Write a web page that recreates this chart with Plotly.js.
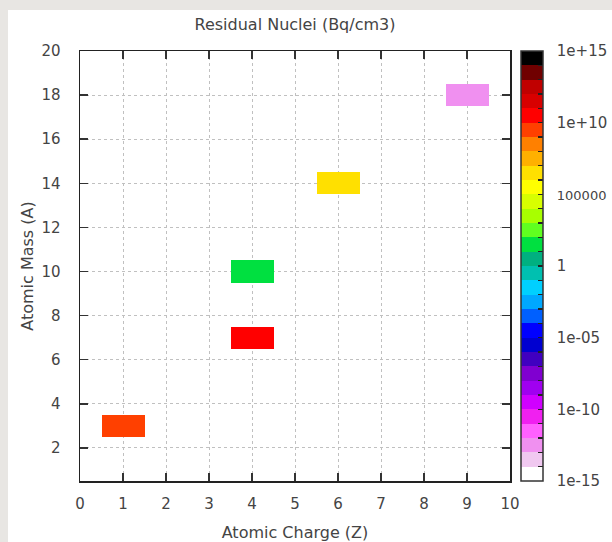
<!DOCTYPE html>
<html>
<head>
<meta charset="utf-8">
<script src="https://cdn.plot.ly/plotly-3.0.1.min.js"></script>
<style>html,body{margin:0;padding:0;background:#fff;}#chart{width:612px;height:542px;}</style>
</head>
<body>
<div id="chart"></div>
<script>
// Residual nuclei: atomic charge Z, atomic mass A, activity (Bq/cm3)
const chargeZ = [1, 4, 4, 6, 9];
const massA = [3, 7, 10, 14, 18];
const activity = [3e9, 3e10, 30, 3e6, 3e-13];

// grid axes (cell centres)
const gridZ = [0, 1, 2, 3, 4, 5, 6, 7, 8, 9, 10];
const gridA = [1, 2, 3, 4, 5, 6, 7, 8, 9, 10, 11, 12, 13, 14, 15, 16, 17, 18, 19, 20];

// colour bar labels (log10 of Bq/cm3)
const cbLabelVals = [-15, -10, -5, 0, 5, 10, 15];
const cbLabelText = ["1e-15", "1e-10", "1e-05", "1", "100000", "1e+10", "1e+15"];

// discrete palette, one colour per decade, from 1e-15 upwards
const palette = [
  "#ffffff", "#f0c8f0", "#f090f0", "#ff60ff", "#f020f0", "#d000ff",
  "#a000f0", "#8000d0", "#4000c0", "#0000d0", "#0000ff", "#0060ff",
  "#00a8ff", "#00d0ff", "#00c0b0", "#00b080", "#00e040", "#60ff20",
  "#a8ff00", "#d8ff00", "#ffff00", "#ffe000", "#ffb000", "#ff8000",
  "#ff4000", "#ff0000", "#d80000", "#c00000", "#700000", "#000000"
];

const zmin = -15, zmax = 15;
const colorscale = [];
palette.forEach((c, i) => {
  colorscale.push([i / palette.length, c]);
  colorscale.push([(i + 1) / palette.length, c]);
});

const zGrid = gridA.map(a => gridZ.map(z => {
  for (let k = 0; k < chargeZ.length; k++) {
    if (chargeZ[k] === z && massA[k] === a) return Math.log10(activity[k]);
  }
  return null;
}));

// every decade gets a dash on the colour bar, labels only on the listed ones
const pad = "\u00a0\u00a0";
const cbTickVals = [], cbTickText = [];
for (let v = zmin; v <= zmax; v++) {
  cbTickVals.push(v);
  const idx = cbLabelVals.indexOf(v);
  let t = "";
  if (idx >= 0) {
    t = cbLabelText[idx];
    // the longest label is drawn a little smaller so it fits inside the page
    if (t.length > 5) t = '<span style="font-size:13px">' + t + '</span>';
    t = pad + t;
  }
  cbTickText.push(t);
}

const family = "DejaVu Sans, Verdana, sans-serif";
const tickFont = {family: family, size: 15, color: "#444"};
const titleFont = {family: family, size: 16, color: "#444"};

const trace = {
  type: "heatmap",
  x: gridZ,
  y: gridA,
  z: zGrid,
  zmin: zmin,
  zmax: zmax,
  colorscale: colorscale,
  hoverinfo: "skip",
  colorbar: {
    x: 1.0256, xanchor: "left", xpad: 0,
    y: 0.5, yanchor: "middle", ypad: 0,
    len: 1, lenmode: "fraction",
    thickness: 22, thicknessmode: "pixels",
    outlinewidth: 1.5, outlinecolor: "#333",
    tickmode: "array", tickvals: cbTickVals, ticktext: cbTickText,
    ticks: "inside", ticklen: 5, tickwidth: 1.5, tickcolor: "#222",
    tickfont: tickFont
  }
};

const axisCommon = {
  showline: true, linecolor: "#222", linewidth: 1.5, mirror: "ticks",
  ticks: "inside", ticklen: 8, tickwidth: 1.5, tickcolor: "#333",
  showgrid: true, gridcolor: "#c0c0c0", gridwidth: 1, griddash: "dot",
  zeroline: false, tickfont: tickFont
};

const layout = {
  width: 612, height: 542,
  margin: {l: 80, r: 102, t: 51, b: 61, autoexpand: false},
  paper_bgcolor: "#e8e6e3",
  plot_bgcolor: "#ffffff",
  font: tickFont,
  title: {text: "Residual Nuclei (Bq/cm3)", font: titleFont, x: 0.5, xref: "paper", xanchor: "center",
          y: 1 - 24 / 542, yref: "container", yanchor: "middle"},
  xaxis: Object.assign({}, axisCommon, {
    range: [0, 10], tickmode: "linear", tick0: 0, dtick: 1, automargin: false,
    ticklabelstandoff: 8,
    title: {text: "Atomic Charge (Z)", font: titleFont, standoff: 15}
  }),
  yaxis: Object.assign({}, axisCommon, {
    range: [0.5, 20], tickmode: "linear", tick0: 0, dtick: 2, automargin: false,
    ticklabelstandoff: 15,
    title: {text: "Atomic Mass (A)", font: titleFont, standoff: 4}
  }),
  shapes: [{
    type: "rect", layer: "below", xref: "paper", yref: "paper",
    x0: (8 - 80) / 430, x1: (620 - 80) / 430, y0: -70 / 430, y1: (481 - 10) / 430,
    fillcolor: "#ffffff", line: {width: 0}
  }]
};

Plotly.newPlot("chart", [trace], layout, {displayModeBar: false, staticPlot: true});
</script>
</body>
</html>
